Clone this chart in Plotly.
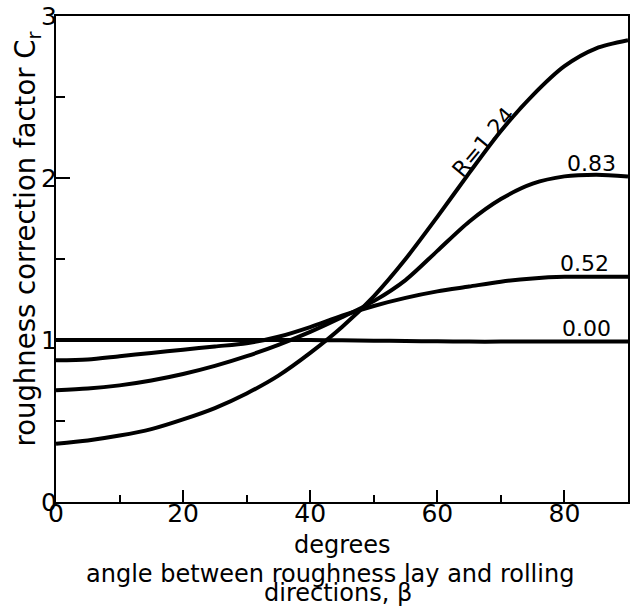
import plotly.graph_objects as go

angle_deg = [0, 5, 10, 15, 20, 25, 30, 35, 40, 45, 50, 55, 60, 65, 70, 75, 80, 85, 90]

cr_r000 = [1.00, 1.00, 1.00, 1.00, 1.00, 1.00, 1.00, 1.00, 1.00, 0.998, 0.996, 0.994, 0.992, 0.99, 0.99, 0.99, 0.99, 0.99, 0.99]
cr_r052 = [0.875, 0.88, 0.90, 0.92, 0.94, 0.96, 0.98, 1.02, 1.08, 1.15, 1.21, 1.26, 1.30, 1.33, 1.36, 1.38, 1.39, 1.39, 1.39]
cr_r083 = [0.69, 0.70, 0.72, 0.75, 0.79, 0.84, 0.90, 0.97, 1.05, 1.14, 1.24, 1.37, 1.55, 1.73, 1.87, 1.965, 2.01, 2.02, 2.01]
cr_r124 = [0.36, 0.38, 0.41, 0.45, 0.51, 0.58, 0.67, 0.78, 0.92, 1.08, 1.27, 1.50, 1.76, 2.03, 2.29, 2.51, 2.69, 2.80, 2.85]

series = [("0.00", cr_r000), ("0.52", cr_r052), ("0.83", cr_r083), ("R=1.24", cr_r124)]

FONT = "DejaVu Sans"

fig = go.Figure()
for name, vals in series:
    fig.add_trace(go.Scatter(x=angle_deg, y=vals, mode="lines", name=name,
                             line=dict(color="black", width=4, shape="spline", smoothing=0.8),
                             showlegend=False, hoverinfo="skip"))

# curve labels
labels = [
    ("0.00", 83.5, 1.07, 0),
    ("0.52", 83.1, 1.47, 0),
    ("0.83", 84.2, 2.09, 0),
    ("R=1.24", 67.2, 2.22, -50),
]
for txt, x, y, ang in labels:
    fig.add_annotation(x=x, y=y, xref="x", yref="y", text=txt, showarrow=False,
                       textangle=ang, xanchor="center", yanchor="middle",
                       font=dict(family=FONT, size=22, color="black"))

# axis titles as annotations
fig.add_annotation(x=0.5, y=-0.0885, xref="paper", yref="paper", text="degrees",
                   showarrow=False, xanchor="center", yanchor="middle",
                   font=dict(family=FONT, size=24, color="black"))
fig.add_annotation(x=0.479, y=-0.148, xref="paper", yref="paper",
                   text="angle between roughness lay and rolling",
                   showarrow=False, xanchor="center", yanchor="middle",
                   font=dict(family=FONT, size=24, color="black"))
fig.add_annotation(x=0.493, y=-0.187, xref="paper", yref="paper",
                   text="directions, β",
                   showarrow=False, xanchor="center", yanchor="middle",
                   font=dict(family=FONT, size=24, color="black"))
fig.add_annotation(x=-0.049, y=0.542, xref="paper", yref="paper",
                   text="roughness correction factor C<sub>r</sub>",
                   showarrow=False, textangle=-90, xanchor="center", yanchor="middle",
                   font=dict(family=FONT, size=27.5, color="black"))

fig.update_xaxes(range=[0, 90], tick0=0, dtick=20, ticks="inside", ticklen=12, tickwidth=2,
                 tickcolor="black", showline=True, linewidth=2, linecolor="black", mirror=True,
                 showgrid=False, zeroline=False, automargin=False, ticklabelstandoff=-12,
                 tickfont=dict(family=FONT, size=25, color="black"),
                 minor=dict(dtick=10, tick0=0, ticks="inside", ticklen=7, tickwidth=2, tickcolor="black", showgrid=False))
fig.update_yaxes(range=[0, 3], tick0=0, dtick=1, ticks="inside", ticklen=14, tickwidth=2,
                 tickcolor="black", showline=True, linewidth=2, linecolor="black", mirror=True,
                 showgrid=False, zeroline=False, automargin=False, ticklabelstandoff=-8,
                 tickfont=dict(family=FONT, size=25, color="black"),
                 minor=dict(dtick=0.5, tick0=0, ticks="inside", ticklen=9, tickwidth=2, tickcolor="black", showgrid=False))

fig.update_layout(width=631, height=608, plot_bgcolor="white", paper_bgcolor="white",
                  margin=dict(l=56, r=3, t=16, b=106), font=dict(family=FONT, color="black"))

fig.write_html("out.html", config={"displayModeBar": False},
               post_script="document.body.style.margin='0px';document.body.style.overflow='hidden';")
